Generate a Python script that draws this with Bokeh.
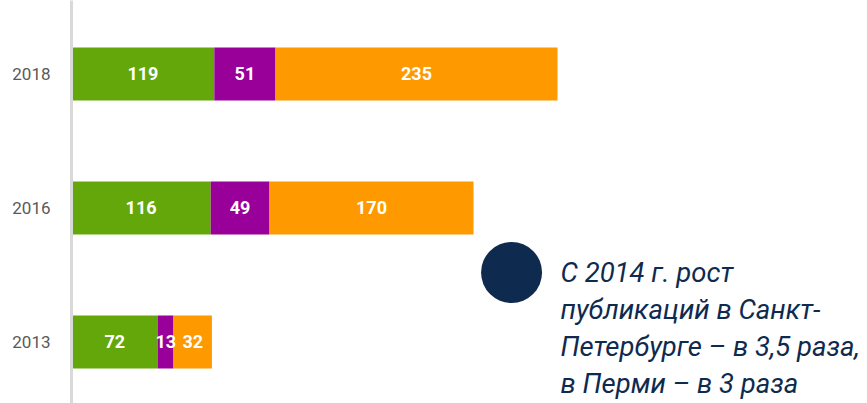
from bokeh.plotting import figure
from bokeh.models import ColumnDataSource, FixedTicker, Range1d
from bokeh.core.properties import value
from bokeh.embed import file_html
from bokeh.resources import INLINE

years = ["2013", "2016", "2018"]
green_vals = [72, 116, 119]
purple_vals = [13, 49, 51]
orange_vals = [32, 170, 235]
series = ["green", "purple", "orange"]
colors = ["#63a70a", "#990099", "#ff9900"]
note_lines = ["С 2014 г. рост", "публикаций в Санкт-", "Петербурге – в 3,5 раза,", "в Перми – в 3 раза"]

FONT = "Roboto"

ypos = list(range(len(years)))
src = ColumnDataSource(dict(y=ypos, green=green_vals, purple=purple_vals, orange=orange_vals))

p = figure(width=867, height=403, output_backend="svg", toolbar_location=None,
           x_range=Range1d(0, 663.3), y_range=Range1d(-0.459, 2.5485),
           min_border_left=71, min_border_right=0, min_border_top=0, min_border_bottom=0)
p.xaxis.visible = False
p.grid.visible = False
p.outline_line_color = None
p.background_fill_color = "white"
p.border_fill_color = "white"

p.hbar_stack(series, y="y", height=0.396, color=colors, source=src, line_color=None)

# value labels centered in each segment
lx, ly, lt = [], [], []
for i in range(len(years)):
    start = 0
    for vals in (green_vals, purple_vals, orange_vals):
        v = vals[i]
        lx.append(start + v / 2)
        ly.append(ypos[i])
        lt.append(str(v))
        start += v
p.text(x=lx, y=ly, text=lt, text_color="white", text_font=value(FONT),
       text_font_size="18px", text_font_style="bold", text_align="center", text_baseline="middle")

yax = p.yaxis[0]
yax.ticker = FixedTicker(ticks=ypos)
yax.major_label_overrides = {i: y for i, y in zip(ypos, years)}
yax.major_tick_line_color = None
yax.minor_tick_line_color = None
yax.axis_line_color = "#d9d9d9"
yax.axis_line_width = 3
yax.major_label_text_font = FONT
yax.major_label_text_font_size = "17px"
yax.major_label_text_color = "#595959"
yax.major_label_standoff = 15

# annotation: dot + italic text
base_y = 0.5186
p.scatter(x=[366.7], y=[base_y], size=61, color="#0e2a4f", line_color=None)
step = 37.0 / 134.0
p.text(x=[407.5] * len(note_lines), y=[base_y - i * step for i in range(len(note_lines))],
       text=note_lines, text_color="#0e2a4f", text_font=value(FONT), text_font_style="italic",
       text_font_size="27.5px", text_align="left", text_baseline="alphabetic")

open("out.html", "w").write(file_html(p, INLINE))
